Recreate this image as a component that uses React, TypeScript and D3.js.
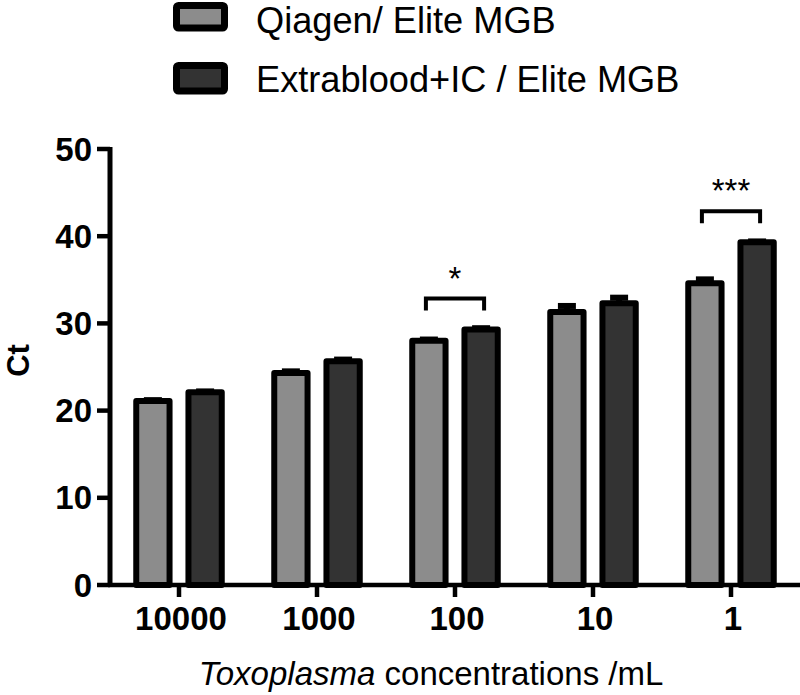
import React from "react";
import * as d3 from "d3";

const categories = ["10000", "1000", "100", "10", "1"];
const seriesNames = ["Qiagen/ Elite MGB", "Extrablood+IC / Elite MGB"];
const qiagenMean = [21.1, 24.3, 28.0, 31.3, 34.6];
const qiagenSem = [0.1, 0.2, 0.15, 0.7, 0.45];
const extraMean = [22.1, 25.65, 29.3, 32.3, 39.3];
const extraSem = [0.1, 0.2, 0.15, 0.65, 0.1];
const yTicks = [0, 10, 20, 30, 40, 50];
const significance = [
  { category: "100", label: "*" },
  { category: "1", label: "***" },
];
const colors = ["#8c8c8c", "#333333"];

const W = 800;
const H = 695;
const FONT = "'Liberation Sans', Arial, Helvetica, sans-serif";

export default function App() {
  const x0 = d3.scaleBand<string>().domain(categories).range([110, 800]);
  const x1 = d3
    .scaleBand<number>()
    .domain([0, 1])
    .range([-45.75, 45.75])
    .paddingInner(0.247)
    .paddingOuter(0);
  const y = d3.scaleLinear().domain([0, 50]).range([585, 149]);
  const sw = 6;
  const bw = x1.bandwidth();

  const series = [
    { mean: qiagenMean, sem: qiagenSem },
    { mean: extraMean, sem: extraSem },
  ];

  const center = (c: string) => (x0(c) as number) + x0.bandwidth() / 2;
  const barCenter = (c: string, s: number) =>
    center(c) + (x1(s) as number) + bw / 2;

  return (
    <svg
      width={W}
      height={H}
      style={{ position: "absolute", left: 0, top: 0, background: "#fff" }}
      fontFamily={FONT}
    >
      {/* Legend */}
      {seriesNames.map((name, i) => (
        <g key={name}>
          <rect
            x={176.5}
            y={i === 0 ? 5.5 : 65.5}
            width={48}
            height={i === 0 ? 22.5 : 25.5}
            rx={2}
            fill={colors[i]}
            stroke="#000"
            strokeWidth={7}
          />
          <text x={256} y={i === 0 ? 32.5 : 91.5} fontSize={36.2} fill="#000">
            {name}
          </text>
        </g>
      ))}

      {/* Bars */}
      {categories.map((c, ci) => (
        <g key={c}>
          {series.map((s, si) => {
            const bx = center(c) + (x1(si) as number);
            const top = y(s.mean[ci]);
            const cx = barCenter(c, si);
            const eTop = y(s.mean[ci] + s.sem[ci]);
            return (
              <g key={si}>
                <line
                  x1={cx}
                  x2={cx}
                  y1={top}
                  y2={eTop}
                  stroke="#000"
                  strokeWidth={sw}
                />
                <line
                  x1={cx - 9}
                  x2={cx + 9}
                  y1={eTop}
                  y2={eTop}
                  stroke="#000"
                  strokeWidth={sw}
                />
                <rect
                  x={bx + sw / 2}
                  y={top}
                  width={bw - sw}
                  height={y(0) - top}
                  fill={colors[si]}
                  stroke="#000"
                  strokeWidth={sw}
                  strokeLinejoin="round"
                />
              </g>
            );
          })}
        </g>
      ))}

      {/* Significance brackets */}
      {significance.map((sig) => {
        const ci = categories.indexOf(sig.category);
        const maxTop = Math.min(y(qiagenMean[ci]), y(extraMean[ci]));
        const by = maxTop - 31;
        const xa = barCenter(sig.category, 0) - 3;
        const xb = barCenter(sig.category, 1) + 3;
        return (
          <g key={sig.category}>
            <path
              d={`M${xa},${by + 12}V${by}H${xb}V${by + 12}`}
              fill="none"
              stroke="#000"
              strokeWidth={4}
            />
            <text
              x={(xa + xb) / 2}
              y={by - 9}
              textAnchor="middle"
              fontSize={33}
              fill="#000"
            >
              {sig.label}
            </text>
          </g>
        );
      })}

      {/* Y axis */}
      <line x1={110} x2={110} y1={y(50) - 2} y2={y(0) + 2} stroke="#000" strokeWidth={5} />
      {yTicks.map((t) => (
        <g key={t}>
          <line x1={97} x2={110} y1={y(t)} y2={y(t)} stroke="#000" strokeWidth={4.5} />
          <text
            x={92}
            y={y(t)}
            dy="0.35em"
            textAnchor="end"
            fontSize={33}
            fontWeight="bold"
            fill="#000"
          >
            {t}
          </text>
        </g>
      ))}
      <text
        transform={`translate(28.5,360.5) rotate(-90)`}
        textAnchor="middle"
        fontSize={31}
        fontWeight="bold"
        fill="#000"
      >
        Ct
      </text>

      {/* X axis */}
      <line x1={108} x2={800} y1={y(0)} y2={y(0)} stroke="#000" strokeWidth={4.5} />
      {categories.map((c) => (
        <g key={c}>
          <line
            x1={center(c)}
            x2={center(c)}
            y1={y(0)}
            y2={y(0) + 12}
            stroke="#000"
            strokeWidth={4.5}
          />
          <text
            x={center(c) + 2}
            y={630}
            textAnchor="middle"
            fontSize={33}
            fontWeight="bold"
            fill="#000"
          >
            {c}
          </text>
        </g>
      ))}
      <text x={431} y={685} textAnchor="middle" fontSize={33} fill="#000">
        <tspan fontStyle="italic">Toxoplasma</tspan> concentrations /mL
      </text>
    </svg>
  );
}
